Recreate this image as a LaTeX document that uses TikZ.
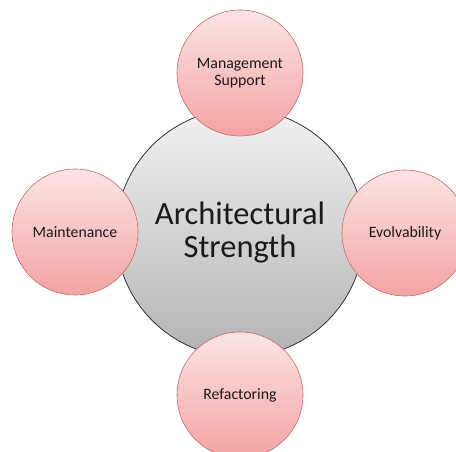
\documentclass[tikz,border=0pt]{standalone}
\usepackage{fontspec}
\setmainfont{Carlito}
\definecolor{pinktop}{HTML}{FCE4E4}
\definecolor{pinkbot}{HTML}{F4A3A3}
\definecolor{pinkedge}{HTML}{C46C6A}
\definecolor{graytop}{HTML}{F2F2F2}
\definecolor{graybot}{HTML}{B3B3B3}
\definecolor{grayedge}{HTML}{333333}
\definecolor{txt}{HTML}{1A1A1A}
\tikzset{
  hub/.style={circle, minimum size=248pt, inner sep=0pt, draw=grayedge, line width=0.8pt,
    top color=graytop, bottom color=graybot, text=txt, align=center,
    font=\fontsize{32.5}{33}\selectfont},
  sat/.style={circle, minimum size=126pt, inner sep=0pt, draw=pinkedge, line width=0.6pt,
    top color=pinktop, bottom color=pinkbot, text=txt, align=center,
    font=\fontsize{15.8}{17}\selectfont}
}
\begin{document}
\begin{tikzpicture}[x=1pt,y=-1pt]
\useasboundingbox (0,0) rectangle (456,452);
\node[hub] (hub) at (240,233) {Architectural\\Strength};
\node[sat] (top) at (240,73) {Management\\Support};
\node[sat] (left) at (75,232) {Maintenance};
\node[sat] (right) at (405,233) {Evolvability};
\node[sat] (bottom) at (240,395) {Refactoring};
\end{tikzpicture}
\end{document}
